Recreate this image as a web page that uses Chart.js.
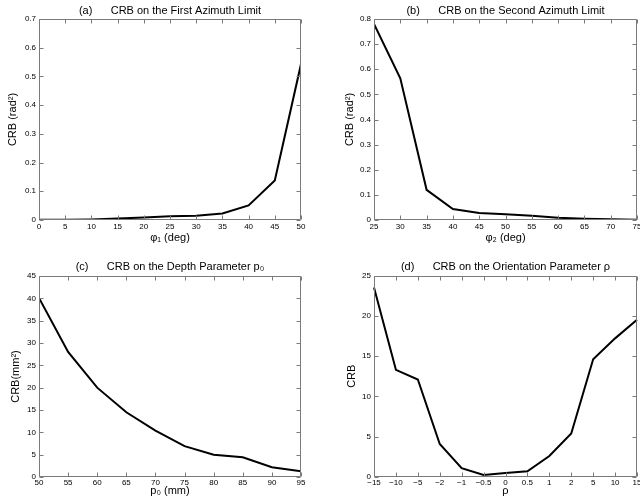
<!DOCTYPE html>
<html>
<head>
<meta charset="utf-8">
<script src="https://cdn.jsdelivr.net/npm/chart.js@4.4.0/dist/chart.umd.min.js"></script>
<style>
  html, body { margin: 0; padding: 0; background: #fff; }
  body { width: 640px; height: 502px; position: relative; overflow: hidden; }
  canvas { position: absolute; }
</style>
</head>
<body>
<canvas id="ca" width="320" height="250" style="left:0;top:0"></canvas>
<canvas id="cb" width="320" height="250" style="left:320px;top:0"></canvas>
<canvas id="cc" width="320" height="252" style="left:0;top:250px"></canvas>
<canvas id="cd" width="320" height="252" style="left:320px;top:250px"></canvas>
<script>
// ---- data ----
const phi1 = [0, 5, 10, 15, 20, 25, 30, 35, 40, 45, 50];
const crbA = [0.0005, 0.001, 0.002, 0.005, 0.009, 0.013, 0.015, 0.023, 0.051, 0.138, 0.543];

const phi2 = [25, 30, 35, 40, 45, 50, 55, 60, 65, 70, 75];
const crbB = [0.78, 0.564, 0.12, 0.044, 0.028, 0.023, 0.017, 0.009, 0.005, 0.003, 0.001];

const p0 = [50, 55, 60, 65, 70, 75, 80, 85, 90, 95];
const crbC = [40.1, 28.0, 20.0, 14.5, 10.4, 6.9, 5.0, 4.4, 2.2, 1.3];

const rho = ['-15', '-10', '-5', '-2', '-1', '-0.5', '0', '0.5', '1', '2', '5', '10', '15'];
const crbD = [23.5, 13.3, 12.1, 4.1, 1.1, 0.25, 0.5, 0.7, 2.6, 5.4, 14.6, 17.2, 19.5];

const titles = [
  '(a)      CRB on the First Azimuth Limit',
  '(b)      CRB on the Second Azimuth Limit',
  '(c)      CRB on the Depth Parameter p\u2080',
  '(d)      CRB on the Orientation Parameter \u03c1'
];
const xTitles = ['\u03c6\u2081 (deg)', '\u03c6\u2082 (deg)', 'p\u2080 (mm)', '\u03c1'];
const yTitles = ['CRB (rad\u00b2)', 'CRB (rad\u00b2)', 'CRB(mm\u00b2)', 'CRB'];

// ---- styling ----
const FONT = "'Liberation Sans', Arial, Helvetica, sans-serif";
Chart.defaults.font.family = FONT;
Chart.defaults.color = '#000';

const boxTicks = {
  id: 'boxTicks',
  afterDraw(chart) {
    const {ctx, chartArea: a} = chart;
    const xs = chart.scales.x, ys = chart.scales.y;
    ctx.save();
    ctx.strokeStyle = '#7a7a7a';
    ctx.lineWidth = 1;
    ctx.beginPath();
    const L = Math.round(a.left) + 0.5, R = Math.round(a.right) - 0.5;
    const T = Math.round(a.top) + 0.5, B = Math.round(a.bottom) - 0.5;
    ctx.rect(L, T, R - L, B - T);
    const tl = 4;
    xs.ticks.forEach((t, i) => {
      const px = Math.round(xs.getPixelForTick(i)) + 0.5;
      ctx.moveTo(px, B); ctx.lineTo(px, B - tl);
      ctx.moveTo(px, T); ctx.lineTo(px, T + tl);
    });
    ys.ticks.forEach((t, i) => {
      const py = Math.round(ys.getPixelForTick(i)) + 0.5;
      ctx.moveTo(L, py); ctx.lineTo(L + tl, py);
      ctx.moveTo(R, py); ctx.lineTo(R - tl, py);
    });
    ctx.stroke();
    ctx.restore();
  }
};

function makeChart(id, idx, data, xScale, yScale, lay) {
  const W = lay.W, H = lay.H;
  return new Chart(document.getElementById(id), {
    type: 'line',
    data: data,
    plugins: [boxTicks],
    options: {
      responsive: false,
      animation: false,
      devicePixelRatio: 1,
      layout: { padding: { left: 0, right: W - lay.R, top: 0, bottom: 0 }, autoPadding: false },
      plugins: {
        legend: { display: false },
        tooltip: { enabled: false },
        title: {
          display: true, text: titles[idx], fullSize: false, color: '#000',
          font: { family: FONT, size: 11, weight: 'normal', lineHeight: 1.2 },
          padding: { top: lay.tt, bottom: lay.T - lay.tt - 13.2 }
        }
      },
      elements: {
        point: { radius: 0 },
        line: { borderColor: '#000', borderWidth: 2, tension: 0 }
      },
      scales: {
        x: Object.assign({
          grid: { display: false, drawTicks: false },
          border: { display: false },
          title: {
            display: true, text: xTitles[idx], color: '#000',
            font: { family: FONT, size: 11, lineHeight: 1.2 },
            padding: { top: 0, bottom: lay.xtb }
          },
          afterFit(s) { s.height = H - lay.B; s.paddingLeft = 0; s.paddingRight = 0; }
        }, xScale),
        y: Object.assign({
          grid: { display: false, drawTicks: false },
          border: { display: false },
          title: {
            display: true, text: yTitles[idx], color: '#000',
            font: { family: FONT, size: 11, lineHeight: 1.2 },
            padding: { top: lay.ytc - 6.6, bottom: 0 }
          },
          afterFit(s) { s.width = lay.L; s.paddingTop = 0; s.paddingBottom = 0; }
        }, yScale)
      }
    }
  });
}

const tickFont = { family: FONT, size: 8 };
const minusFmt = s => String(s).replace(/-/g, '\u2212');

makeChart('ca', 0,
  { datasets: [{ data: phi1.map((x, i) => ({ x: x, y: crbA[i] })) }] },
  { type: 'linear', min: 0, max: 50, ticks: { stepSize: 5, font: tickFont, padding: 2, maxRotation: 0, autoSkip: false } },
  { type: 'linear', min: 0, max: 0.7, ticks: { stepSize: 0.1, font: tickFont, padding: 3 } },
  { W: 320, H: 250, L: 39, R: 301, T: 19, B: 220, tt: 4.4, xtb: 5, ytc: 12.5 });

makeChart('cb', 1,
  { datasets: [{ data: phi2.map((x, i) => ({ x: x, y: crbB[i] })) }] },
  { type: 'linear', min: 25, max: 75, ticks: { stepSize: 5, font: tickFont, padding: 2, maxRotation: 0, autoSkip: false } },
  { type: 'linear', min: 0, max: 0.8, ticks: { stepSize: 0.1, font: tickFont, padding: 3 } },
  { W: 320, H: 250, L: 54, R: 317, T: 19, B: 220, tt: 4.4, xtb: 5, ytc: 29.5 });

makeChart('cc', 2,
  { datasets: [{ data: p0.map((x, i) => ({ x: x, y: crbC[i] })) }] },
  { type: 'linear', min: 50, max: 95, ticks: { stepSize: 5, font: tickFont, padding: 1, maxRotation: 0, autoSkip: false } },
  { type: 'linear', min: 0, max: 45, ticks: { stepSize: 5, font: tickFont, padding: 3 } },
  { W: 320, H: 252, L: 39, R: 301, T: 26, B: 227, tt: 10.1, xtb: 4.5, ytc: 16 });

makeChart('cd', 3,
  { labels: rho, datasets: [{ data: crbD }] },
  { type: 'category', offset: false, ticks: { font: tickFont, padding: 1, maxRotation: 0, autoSkip: false,
      callback: function (v) { return minusFmt(this.getLabelForValue(v)); } } },
  { type: 'linear', min: 0, max: 25, ticks: { stepSize: 5, font: tickFont, padding: 3 } },
  { W: 320, H: 252, L: 54, R: 317, T: 25.5, B: 227, tt: 10.4, xtb: 4.5, ytc: 32 });
</script>
</body>
</html>
